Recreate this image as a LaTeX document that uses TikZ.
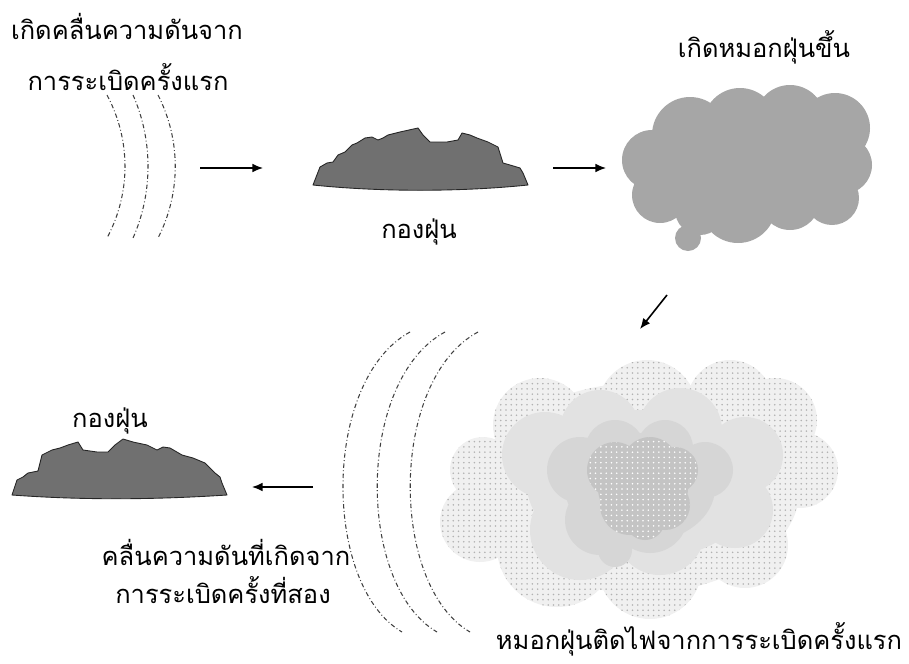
\documentclass[tikz,border=0pt]{standalone}
\usepackage{fontspec}
\usepackage{tikz}
\usetikzlibrary{arrows.meta, patterns}
\newfontfamily\thaifont[Script=Thai]{Loma}
\definecolor{piledark}{RGB}{112, 112, 112}
\definecolor{cloudmid}{RGB}{166, 166, 166}
\definecolor{fireouter}{RGB}{240, 240, 240}
\definecolor{firemid}{RGB}{226, 226, 226}
\definecolor{fireband}{RGB}{214, 214, 214}
\definecolor{firecore}{RGB}{196, 196, 196}

\begin{document}
\begin{tikzpicture}[
    x=0.02cm, y=-0.02cm,
    label/.style={font=\thaifont\fontsize{14.5}{17}\selectfont, anchor=base, inner sep=0pt},
    pile/.style={fill=piledark, draw=black!85, line width=0.5pt, line join=round},
    wave/.style={draw=black!75, line width=0.6pt,
        dash pattern=on 2.5pt off 1.4pt on 0.5pt off 1.4pt},
    flow/.style={-{Latex[length=6pt, width=5pt]}, line width=0.9pt}
]
\useasboundingbox (0,0) rectangle (909,663);

% First blast: pressure wave
\node[label] (wavetext1) at (127,39) {เกิดคลื่นความดันจาก};
\node[label] (wavetext2) at (128,90) {การระเบิดครั้งแรก};
\draw[wave] (107,95) .. controls (131,140) and (131,193) .. (107,238);
\draw[wave] (133,95) .. controls (153,140) and (153,193) .. (133,238);
\draw[wave] (158,95) .. controls (181,140) and (181,193) .. (158,238);

% Dust pile on the floor
\draw[pile] (313,185) -- (320,167) -- (327,163) -- (333,162) -- (338,155)
    -- (345,152) -- (352,145) -- (357,143) -- (365,138) -- (372,137)
    -- (378,140) -- (383,138) -- (388,135) -- (400,132) -- (418,128)
    -- (423,135) -- (430,142) -- (447,142) -- (458,140) -- (462,133)
    -- (470,135) -- (477,138) -- (488,142) -- (498,147) -- (503,163)
    -- (510,165) -- (520,168) -- (523,173) -- (528,185)
    .. controls (460,192) and (380,192) .. cycle;
\node[label] (piletext1) at (419,238) {กองฝุ่น};

% Dust cloud
\fill[cloudmid] (750,168) ellipse [x radius=100, y radius=55]
    (652,160) circle (30) (660,195) circle (28) (688,238) circle (13)
    (690,135) circle (38) (740,125) circle (37) (790,120) circle (35)
    (835,128) circle (35) (843,165) circle (29) (832,198) circle (27)
    (790,200) circle (30) (738,205) circle (38) (700,210) circle (25);
\node[label] (cloudtext) at (764,57) {เกิดหมอกฝุ่นขึ้น};

% Ignited dust cloud, outer to inner
\fill[fireouter] (640,488) ellipse [x radius=160, y radius=105]
    (483,470) circle (33) (480,522) circle (40) (540,425) circle (47)
    (647,410) circle (50) (730,403) circle (43) (775,420) circle (42)
    (800,470) circle (38) (745,545) circle (43) (650,567) circle (52)
    (557,547) circle (60);
\fill[pattern=dots, pattern color=black!30] (640,488) ellipse [x radius=160, y radius=105]
    (483,470) circle (33) (480,522) circle (40) (540,425) circle (47)
    (647,410) circle (50) (730,403) circle (43) (775,420) circle (42)
    (800,470) circle (38) (745,545) circle (43) (650,567) circle (52)
    (557,547) circle (60);
\fill[firemid] (642,485) ellipse [x radius=115, y radius=75]
    (545,455) circle (43) (600,430) circle (40) (680,430) circle (42)
    (745,455) circle (38) (580,530) circle (50) (660,530) circle (45)
    (735,510) circle (38);
\fill[fireband] (640,488) ellipse [x radius=75, y radius=55]
    (580,470) circle (33) (615,450) circle (30) (665,448) circle (28)
    (705,470) circle (28) (650,515) circle (38) (600,520) circle (35)
    (615,550) circle (17);
\fill[firecore] (643,488) ellipse [x radius=45, y radius=40]
    (615,470) circle (28) (650,465) circle (28) (675,470) circle (23)
    (630,505) circle (30) (665,505) circle (25) (645,520) circle (20);
\fill[pattern=dots, pattern color=white] (643,488) ellipse [x radius=45, y radius=40]
    (615,470) circle (28) (650,465) circle (28) (675,470) circle (23)
    (630,505) circle (30) (665,505) circle (25) (645,520) circle (20);
\node[label] (firetext) at (699,649) {หมอกฝุ่นติดไฟจากการระเบิดครั้งแรก};

% Second blast: pressure wave
\draw[wave] (410,332) .. controls (322,380) and (322,585) .. (402,632);
\draw[wave] (445,332) .. controls (356,380) and (356,585) .. (437,632);
\draw[wave] (478,332) .. controls (389,380) and (389,585) .. (470,632);
\node[label] (wavetext3) at (226,565) {คลื่นความดันที่เกิดจาก};
\node[label] (wavetext4) at (223,603) {การระเบิดครั้งที่สอง};

% Dust pile hit by the second wave
\draw[pile] (12,495) -- (17,480) -- (23,477) -- (28,473) -- (38,471) -- (42,455)
    -- (52,450) -- (60,448) -- (68,445) -- (78,442) -- (83,450) -- (97,452)
    -- (108,452) -- (115,445) -- (123,439) -- (133,442) -- (147,445)
    -- (157,450) -- (163,447) -- (170,448) -- (182,455) -- (193,458)
    -- (205,463) -- (215,473) -- (220,477) -- (222,483) -- (227,495)
    .. controls (150,500) and (80,500) .. cycle;
\node[label] (piletext2) at (110,427) {กองฝุ่น};

% Arrows
\coordinate (a1s) at (200,168);
\coordinate (a1e) at (263,168);
\coordinate (a2s) at (553,168);
\coordinate (a2e) at (606,168);
\coordinate (a3s) at (667,295);
\coordinate (a3e) at (640,329);
\coordinate (a4s) at (313,487);
\coordinate (a4e) at (252,487);
\draw[flow] (a1s) -- (a1e);
\draw[flow] (a2s) -- (a2e);
\draw[flow] (a3s) -- (a3e);
\draw[flow] (a4s) -- (a4e);

\end{tikzpicture}
\end{document}
